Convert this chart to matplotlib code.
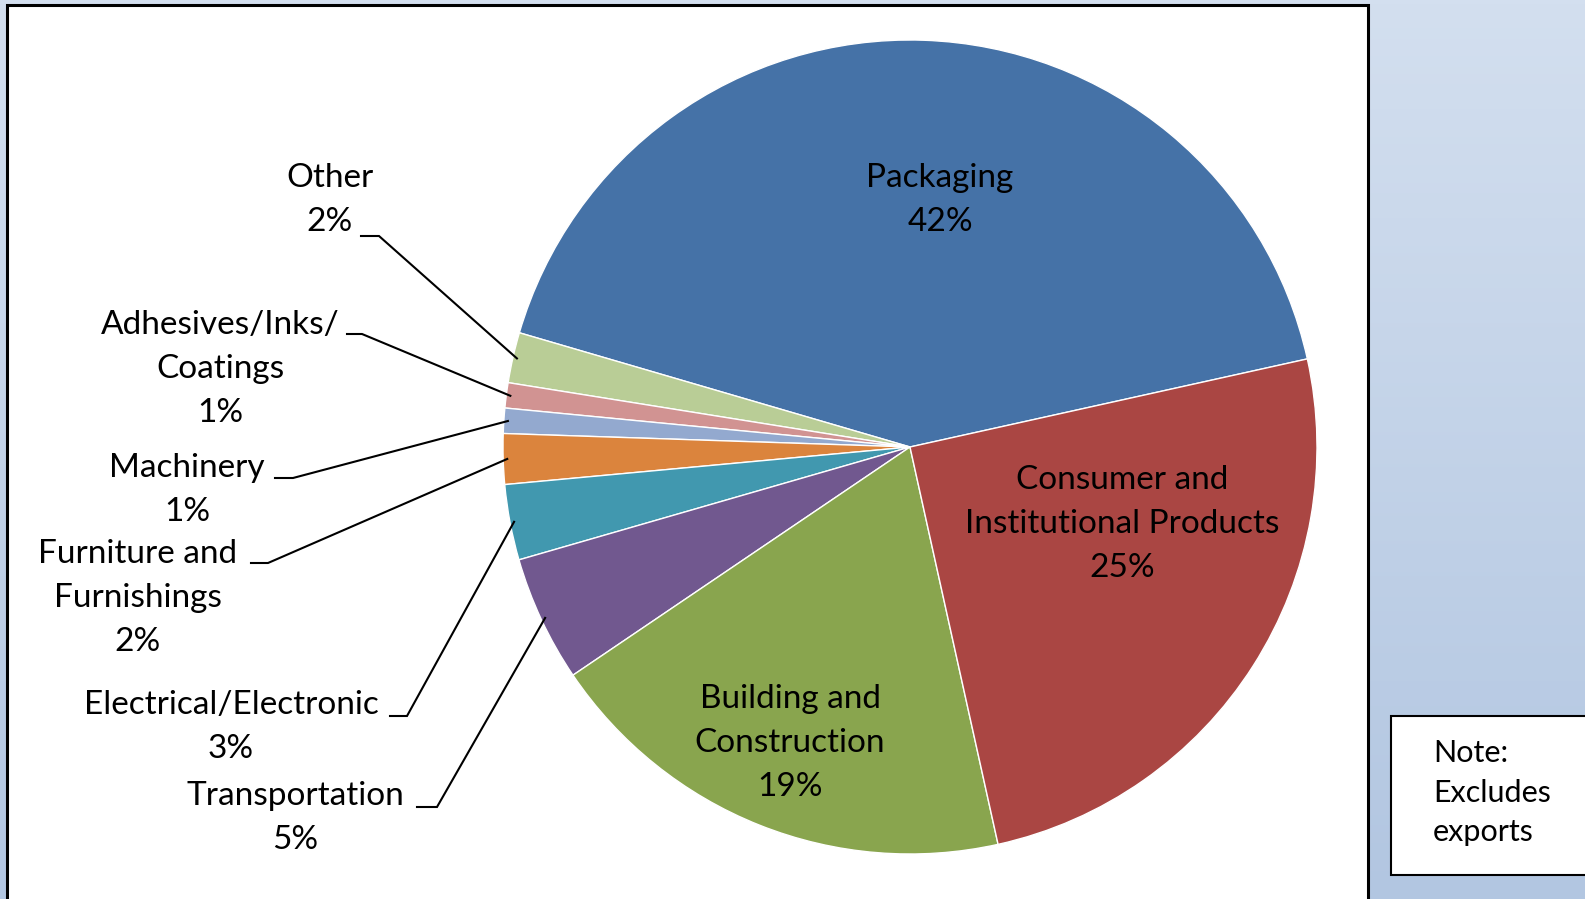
import numpy as np
import matplotlib
matplotlib.use("Agg")
import matplotlib.pyplot as plt
from matplotlib.patches import Rectangle
from matplotlib.colors import LinearSegmentedColormap

plt.rcParams['font.family'] = ['Lato', 'DejaVu Sans']

# market shares by end use (percent)
categories = ["Packaging", "Other", "Adhesives/Inks/\nCoatings", "Machinery",
              "Furniture and\nFurnishings", "Electrical/Electronic", "Transportation",
              "Building and\nConstruction", "Consumer and\nInstitutional Products"]
shares = [42, 2, 1, 1, 2, 3, 5, 19, 25]
colors = ["#4572A7", "#B9CD96", "#D19392", "#93A9CF", "#DB843D",
          "#4198AF", "#71588F", "#89A54E", "#AA4643"]

W, H = 1585, 899
fig = plt.figure(figsize=(W / 100, H / 100), dpi=100)

# blue gradient page background
bg = fig.add_axes([0, 0, 1, 1])
grad = np.linspace(0, 1, 256).reshape(-1, 1)
cmap = LinearSegmentedColormap.from_list("bg", ["#D3DFEF", "#B2C6E1"])
bg.imshow(grad, cmap=cmap, aspect="auto", extent=[0, 1, 0, 1])
bg.set_xlim(0, 1)
bg.set_ylim(0, 1)
bg.axis("off")

ax = fig.add_axes([0, 0, 1, 1])

def Y(y):
    return H - y

cx, cy, r = 910, Y(447), 407
wedges, _ = ax.pie(shares, colors=colors, startangle=12.5, counterclock=True,
                   center=(cx, cy), radius=r, frame=True,
                   wedgeprops=dict(edgecolor="white", linewidth=1.0))
ax.set_xlim(0, W)
ax.set_ylim(0, H)
ax.set_aspect("equal")
ax.axis("off")

# white chart area with black frame
ax.add_patch(Rectangle((7, Y(910)), 1361, 905, facecolor="white",
                       edgecolor="black", lw=2.2, zorder=0))

fs = 24
ls = 1.6
pct = [f"{v}%" for v in shares]

# labels inside the big slices
inside = {0: (940, 200), 8: (1122, 524), 7: (790, 743)}
for i, (x, y) in inside.items():
    ax.text(x, Y(y), categories[i] + "\n" + pct[i], ha="center", va="center",
            fontsize=fs, linespacing=ls, zorder=5)

# outside labels: text center, leader start (x0, x1, y)
outside = {
    1: ((330, 200), (361, 379, 236)),
    2: ((220, 369), (347, 362, 334)),
    3: ((187, 490), (275, 293, 478)),
    4: ((138, 598), (251, 268, 563)),
    5: ((231, 727), (390, 407, 716)),
    6: ((295, 818), (417, 437, 807)),
}
for i, ((tx, ty), (x0, x1, ly)) in outside.items():
    ax.text(tx, Y(ty), categories[i] + "\n" + pct[i], ha="center", va="center",
            fontsize=fs, linespacing=ls, zorder=5)
    w = wedges[i]
    mid = np.deg2rad((w.theta1 + w.theta2) / 2)
    ex, ey = cx + r * 0.99 * np.cos(mid), cy + r * 0.99 * np.sin(mid)
    ax.plot([x0, x1, ex], [Y(ly), Y(ly), ey], color="black", lw=1.5,
            solid_joinstyle="miter", zorder=4)

# note box
ax.add_patch(Rectangle((1391, Y(875)), 200, 159, facecolor="white",
                       edgecolor="black", lw=1.5, zorder=3))
ax.text(1433, Y(793), "Note:\nExcludes\nexports", ha="left", va="center",
        fontsize=22, linespacing=1.5, zorder=5)

fig.savefig("out.png", dpi=100)
